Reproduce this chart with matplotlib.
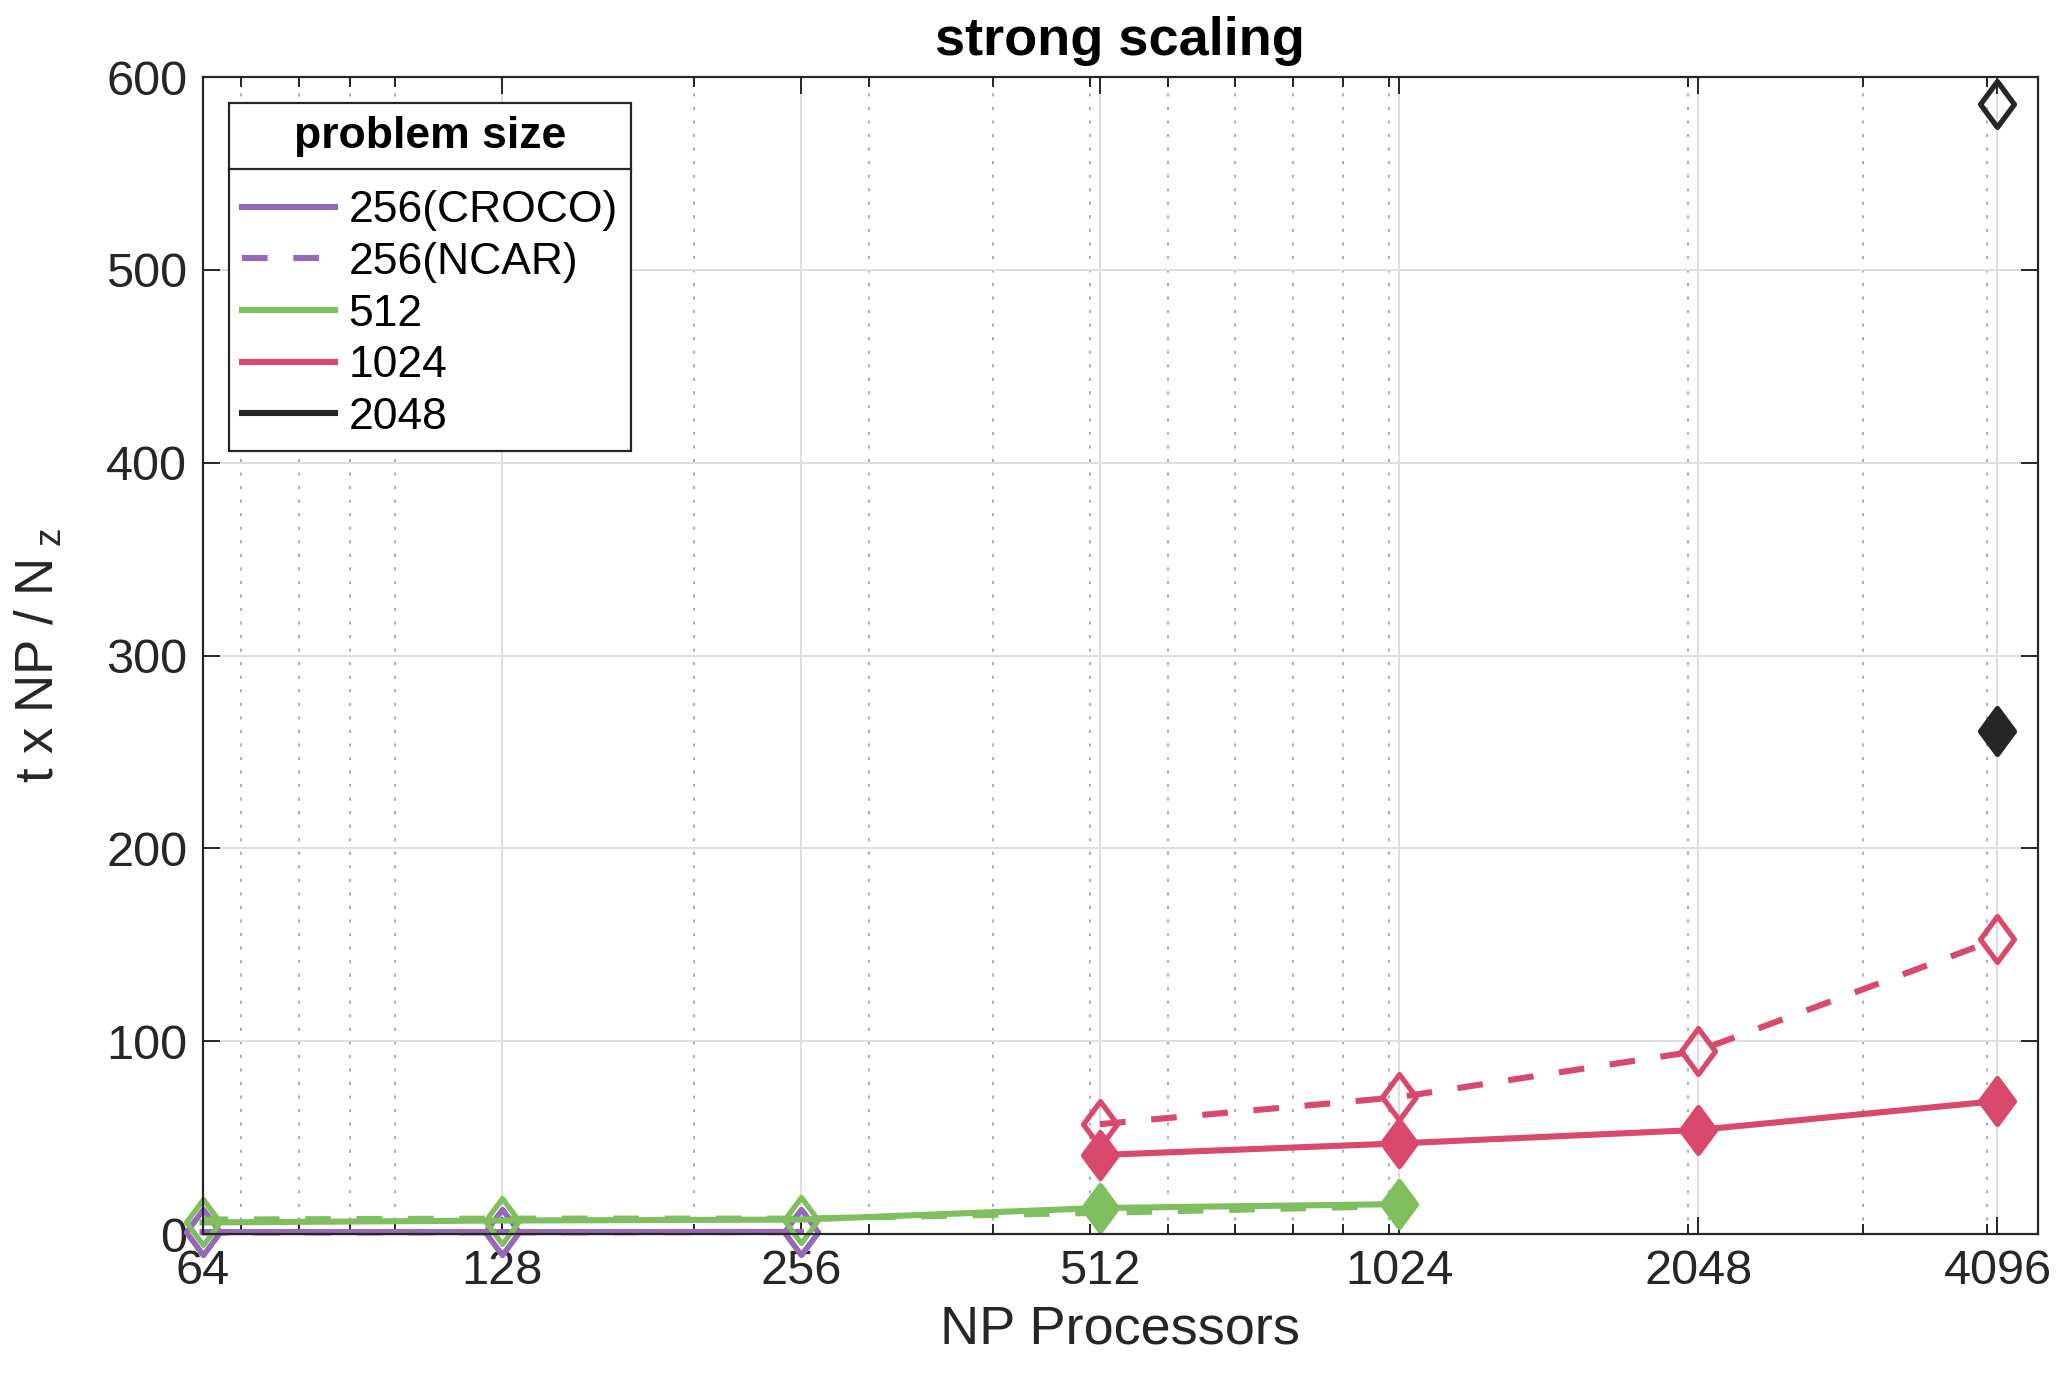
import numpy as np
import matplotlib
matplotlib.use('Agg')
import matplotlib.pyplot as plt
from matplotlib.lines import Line2D
from matplotlib.path import Path
from matplotlib.ticker import FixedLocator, FixedFormatter, LogLocator, NullFormatter

plt.rcParams['font.family'] = ['Liberation Sans', 'DejaVu Sans']
plt.rcParams['mathtext.fontset'] = 'custom'
plt.rcParams['mathtext.rm'] = 'Liberation Sans'
plt.rcParams['mathtext.it'] = 'Liberation Sans'

# processor counts
np_all = [64, 128, 256, 512, 1024, 2048, 4096]
np_256 = [64, 128, 256]
np_512 = [64, 128, 256, 512, 1024]
np_1024 = [512, 1024, 2048, 4096]
np_2048 = [4096]

# t x NP / Nz
croco_256 = [1.0, 1.0, 1.1]
ncar_256 = [0.8, 0.9, 1.0]
croco_512 = [6.0, 7.0, 7.5, 13.5, 15.5]
ncar_512 = [7.5, 8.0, 8.0, 11.0, 14.5]
croco_1024 = [41, 47, 54, 69]
ncar_1024 = [57, 71, 95, 153]
croco_2048 = [261]
ncar_2048 = [586]

legend_labels = ['256(CROCO)', '256(NCAR)', '512', '1024', '2048']

c_purple = '#9569b6'
c_green = '#80bf5f'
c_red = '#d8496c'
c_black = '#262626'
txt = '#262626'

# matlab-like diamond (taller than wide)
diam = Path([(0, 1), (0.74, 0), (0, -1), (-0.74, 0), (0, 1)],
            [Path.MOVETO, Path.LINETO, Path.LINETO, Path.LINETO, Path.CLOSEPOLY])

lw = 4.4
ms = 33
mew = 3.8
dash = (0, (4.2, 4.2))

fig = plt.figure(figsize=(20.67, 13.85), dpi=100)
ax = fig.add_axes([0.098, 0.109, 0.888, 0.8353])

# 256
ax.plot(np_256, ncar_256, color=c_purple, lw=lw, ls=dash, marker=diam, ms=ms,
        mfc='none', mec=c_purple, mew=mew, clip_on=False)
ax.plot(np_256, croco_256, color=c_purple, lw=lw, marker=diam, ms=ms,
        mfc='none', mec=c_purple, mew=mew, clip_on=False)
# 512
ax.plot(np_512, ncar_512, color=c_green, lw=lw, ls=dash, clip_on=False)
ax.plot(np_512, croco_512, color=c_green, lw=lw, marker=diam, ms=ms,
        mfc='none', mec=c_green, mew=mew, markevery=[0, 1, 2], clip_on=False)
ax.plot(np_512, croco_512, ls='none', marker=diam, ms=ms,
        mfc=c_green, mec=c_green, mew=mew, markevery=[3, 4], clip_on=False)
# 1024
ax.plot(np_1024, ncar_1024, color=c_red, lw=lw, ls=dash, marker=diam, ms=ms,
        mfc='none', mec=c_red, mew=mew, clip_on=False)
ax.plot(np_1024, croco_1024, color=c_red, lw=lw, marker=diam, ms=ms,
        mfc=c_red, mec=c_red, mew=mew, clip_on=False)
# 2048
ax.plot(np_2048, ncar_2048, ls='none', marker=diam, ms=ms,
        mfc='none', mec=c_black, mew=mew, clip_on=False)
ax.plot(np_2048, croco_2048, ls='none', marker=diam, ms=ms,
        mfc=c_black, mec=c_black, mew=mew, clip_on=False)

ax.set_xscale('log')
ax.set_xlim(64, 4500)
ax.set_ylim(0, 600)
ax.xaxis.set_major_locator(FixedLocator(np_all))
ax.xaxis.set_major_formatter(FixedFormatter([str(v) for v in np_all]))
ax.xaxis.set_minor_locator(LogLocator(base=10, subs=np.arange(1, 10), numticks=50))
ax.xaxis.set_minor_formatter(NullFormatter())
ax.set_yticks(np.arange(0, 601, 100))

ax.grid(True, which='major', color='#dedede', lw=1.4)
ax.grid(True, which='minor', axis='x', color='#b0b0b0', lw=1.5, ls=(0, (1.5, 5)))
ax.set_axisbelow(True)

for s in ax.spines.values():
    s.set_color(txt)
    s.set_linewidth(1.6)
ax.tick_params(which='both', direction='in', top=True, right=True, colors=txt,
               labelsize=35, width=1.4)
ax.tick_params(which='major', length=12, pad=11)
ax.tick_params(which='minor', length=7)

ax.set_xlabel('NP Processors', fontsize=39, color=txt, labelpad=7)
ax.set_ylabel(r't x NP / N$_{\ \rm z}$', fontsize=38, color=txt, labelpad=30)
ax.set_title('strong scaling', fontsize=39, fontweight='bold', pad=16)

handles = [
    Line2D([], [], color=c_purple, lw=lw),
    Line2D([], [], color=c_purple, lw=lw, ls=dash),
    Line2D([], [], color=c_green, lw=lw),
    Line2D([], [], color=c_red, lw=lw),
    Line2D([], [], color=c_black, lw=lw),
]
leg = ax.legend(handles, legend_labels, loc='upper left', bbox_to_anchor=(0.0142, 0.978),
                fontsize=32, title='problem size', frameon=True, fancybox=False,
                edgecolor=txt, framealpha=1, handlelength=2.1, handletextpad=0.3,
                labelspacing=0.24, borderpad=0.3, borderaxespad=0)
leg.get_title().set_fontweight('bold')
leg.get_title().set_fontsize(32)
leg.get_frame().set_linewidth(1.6)
leg._legend_box.sep = 24
leg.set_zorder(5)
for t in leg.get_texts():
    t.set_color('black')

# separator line under the legend title
fig.canvas.draw()
r = fig.canvas.get_renderer()
fb = leg.get_frame().get_window_extent(r)
tb = leg.get_title().get_window_extent(r)
yline = tb.y0 - 12
inv = fig.transFigure.inverted()
p0 = inv.transform((fb.x0, yline))
p1 = inv.transform((fb.x1, yline))
fig.add_artist(Line2D([p0[0], p1[0]], [p0[1], p1[1]], color=txt, lw=1.6))

fig.savefig('out.png', dpi=100)
